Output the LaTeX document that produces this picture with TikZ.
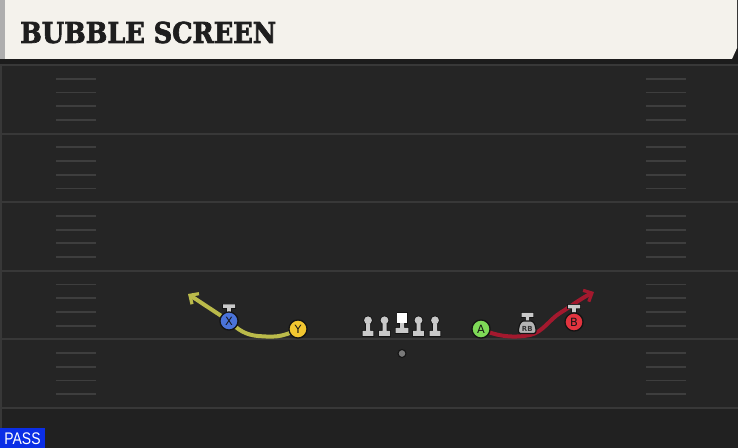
\documentclass[tikz,border=0pt]{standalone}
\usepackage{fontspec}
\setmainfont{DejaVu Sans}
\newfontfamily\titlefont{DejaVu Serif}[BoldFeatures={FakeBold=2.5}]
\newfontfamily\passfont{Liberation Sans}
\usetikzlibrary{arrows.meta}
\definecolor{bgdark}{HTML}{1C1C1C}
\definecolor{hdr}{HTML}{F4F2EC}
\definecolor{hdrstrip}{HTML}{AEAEAE}
\definecolor{fieldC}{HTML}{252525}
\definecolor{fieldLow}{HTML}{212121}
\definecolor{lineC}{HTML}{383838}
\definecolor{hashC}{HTML}{3E3E3E}
\definecolor{routeY}{HTML}{BABA4A}
\definecolor{routeR}{HTML}{A3192E}
\definecolor{xblue}{HTML}{4A73D9}
\definecolor{yyel}{HTML}{F2C630}
\definecolor{agreen}{HTML}{7ED957}
\definecolor{bred}{HTML}{E2343F}
\definecolor{passblue}{HTML}{0B2EE6}
\definecolor{iconC}{HTML}{C9C9C9}
\definecolor{rbC}{HTML}{B4B4B4}
\definecolor{ballC}{HTML}{7A7A7A}
\definecolor{outC}{HTML}{141414}
\definecolor{titleC}{HTML}{1E1E1E}
\tikzset{
  yard/.style={draw=lineC, line width=1.5pt},
  hashmark/.style={draw=hashC, line width=1.3pt},
  player/.style={circle, minimum size=13.6pt, inner sep=0pt, draw=outC, line width=1pt,
    font=\fontsize{8.5}{8.5}\selectfont, text=outC},
  routeYs/.style={draw=routeY, line width=3pt, line cap=round,
    -{Straight Barb[length=5pt,width=9.5pt,line width=2.4pt]}},
  routeRs/.style={draw=routeR, line width=3pt, line cap=round,
    -{Straight Barb[length=5pt,width=9.5pt,line width=2.4pt]}},
  iconfill/.style={fill=iconC},
  iconout/.style={draw=outC, line width=1.2pt, fill=outC},
  lineman/.pic={
    \path[iconout] (-5.4,-5) rectangle (5.4,0) (-2,-12) rectangle (2,-5) (0,-15.7) circle (3.9);
    \path[iconfill] (-5.4,-5) rectangle (5.4,0) (-2,-12) rectangle (2,-5) (0,-15.7) circle (3.9);
  },
  centerman/.pic={
    \path[iconout] (-6.3,-5) rectangle (6.3,0) (-2,-10) rectangle (2,-5) (-4.7,-20) rectangle (4.7,-10);
    \path[iconfill] (-6.3,-5) rectangle (6.3,0) (-2,-10) rectangle (2,-5);
    \path[fill=white] (-4.7,-20) rectangle (4.7,-10);
  },
  tmark/.pic={
    \path[iconout] (-6,-7.5) rectangle (6,-4) (-1.8,-4) rectangle (1.8,0);
    \path[iconfill] (-6,-7.5) rectangle (6,-4) (-1.8,-4) rectangle (1.8,0);
  }
}
\begin{document}
\begin{tikzpicture}[x=0.75pt,y=-0.75pt]
\useasboundingbox (0,0) rectangle (738,448);
% background
\fill[bgdark] (0,0) rectangle (738,448);
\fill[fieldC] (0,65) rectangle (738,408);
\fill[fieldLow] (0,408) rectangle (738,448);
\fill[lineC] (0,65) rectangle (2,448);
% header
\fill[hdr] (0,0) -- (737,0) -- (737,48) -- (732,59) -- (0,59) -- cycle;
\fill[hdrstrip] (0,0) rectangle (5,59);
\node[anchor=west, inner sep=0pt, text=titleC,
  font=\titlefont\bfseries\fontsize{21.5}{21.5}\selectfont] (title) at (20,32.5) {\scalebox{0.892}[1]{BUBBLE SCREEN}};
% yard lines and hashes
\foreach \k in {0,...,5}{
  \draw[yard] (0,65+68.6*\k) -- (738,65+68.6*\k);
}
\foreach \k in {0,...,4}{
  \foreach \j in {1,...,4}{
    \draw[hashmark] (56,65+68.6*\k+13.72*\j) -- (96,65+68.6*\k+13.72*\j);
    \draw[hashmark] (646,65+68.6*\k+13.72*\j) -- (686,65+68.6*\k+13.72*\j);
  }
}
% player anchors
\coordinate (Xc) at (229,321);
\coordinate (Yc) at (298,329);
\coordinate (Ac) at (481,329);
\coordinate (Bc) at (574,322);
\coordinate (yEnd) at (188,294);
\coordinate (rEnd) at (594,292);
% routes
\draw[routeYs] (Yc) .. controls (282,338) and (272,337) .. (258,336)
  .. controls (246,335) and (238,330) .. (Xc) -- (yEnd);
\draw[routeRs] (Ac) .. controls (498,337) and (515,338) .. (530,335)
  .. controls (543,332) and (549,320) .. (560,313)
  .. controls (570,307) and (580,299) .. (rEnd);
% offensive line
\pic (lt) at (368,336) {lineman};
\pic (lg) at (384.5,336) {lineman};
\pic (ce) at (402,333) {centerman};
\pic (rg) at (418.5,336) {lineman};
\pic (rt) at (435,336) {lineman};
% ball
\node[circle, fill=ballC, draw=outC, line width=0.8pt, minimum size=6pt, inner sep=0pt] (ball) at (402,353.5) {};
% T markers
\pic (xt) at (229,312) {tmark};
\pic (bt) at (574,312.5) {tmark};
% RB
\path[iconout] (521.5,313) rectangle (533.3,317) (525.8,317) rectangle (529,321.5);
\path[iconfill] (521.5,313) rectangle (533.3,317) (525.8,317) rectangle (529,321.5);
\path[draw=outC, line width=0.9pt, fill=rbC, rounded corners=1.6pt]
  (518.5,333.5) -- (518.5,327) -- (521.5,321) -- (533,321) -- (536,327) -- (536,333.5) -- cycle;
\node[inner sep=0pt, font=\fontsize{5.2}{5.2}\selectfont\bfseries, text=black!80] (RB) at (527.3,329) {RB};
% players
\node[player, fill=xblue] (X) at (Xc) {X};
\node[player, fill=yyel] (Y) at (Yc) {Y};
\node[player, fill=agreen] (A) at (Ac) {A};
\node[player, fill=bred] (B) at (Bc) {B};
% PASS tag
\fill[passblue] (0,427.5) rectangle (45,448);
\node[text=white, inner sep=0pt, font=\passfont\fontsize{12.6}{12.6}\selectfont] (pass) at (22.5,438.8) {\scalebox{0.83}[1]{PASS}};
\end{tikzpicture}
\end{document}
